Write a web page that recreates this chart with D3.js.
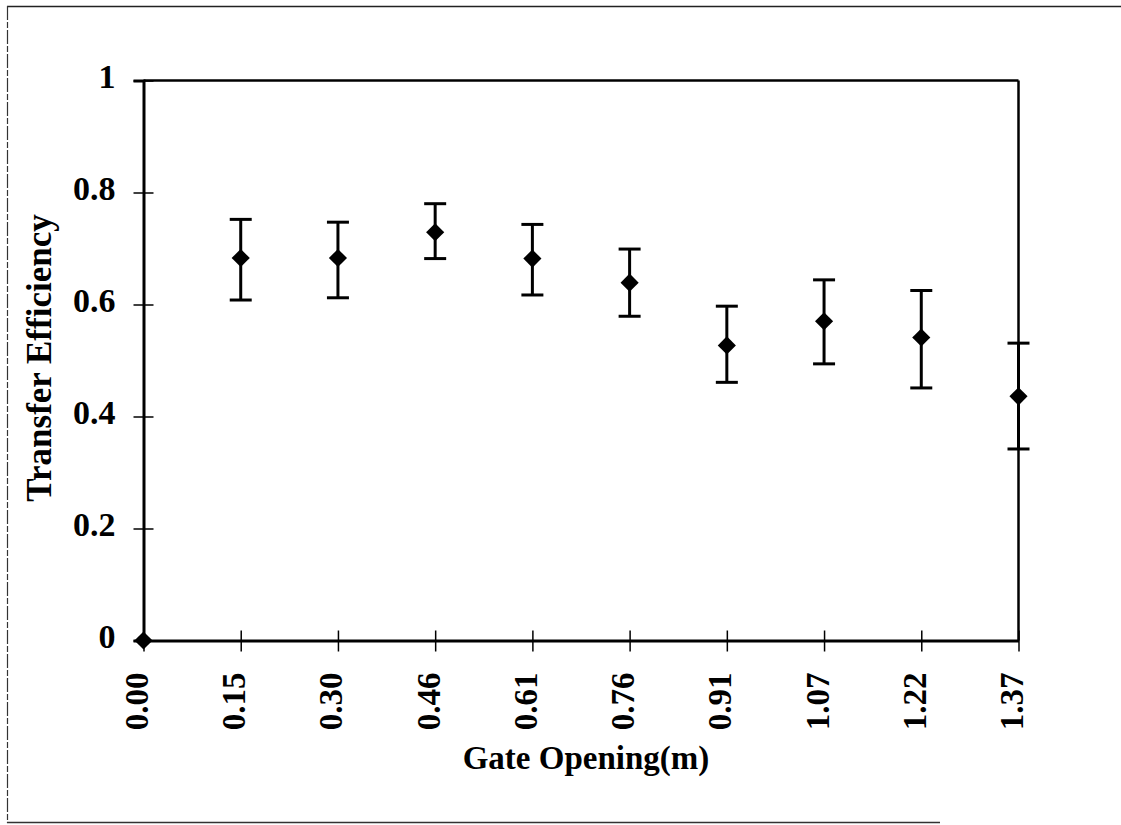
<!DOCTYPE html>
<html>
<head>
<meta charset="utf-8">
<script src="https://cdn.jsdelivr.net/npm/d3@7"></script>
<style>
  html, body { margin: 0; padding: 0; background: #fff; }
  svg { display: block; }
  text { font-family: "Liberation Serif", "Times New Roman", serif; font-weight: bold; fill: #000; }
</style>
</head>
<body>
<svg id="chart" width="1121" height="825"></svg>
<script>
// ---- data ----
const categories = ["0.00", "0.15", "0.30", "0.46", "0.61", "0.76", "0.91", "1.07", "1.22", "1.37"];
const efficiency = [0, 0.683, 0.683, 0.729, 0.682, 0.639, 0.527, 0.570, 0.541, 0.436];
const upperErr   = [null, 0.752, 0.747, 0.780, 0.743, 0.699, 0.597, 0.644, 0.625, 0.531];
const lowerErr   = [null, 0.608, 0.612, 0.682, 0.617, 0.579, 0.461, 0.494, 0.451, 0.342];
const yTicks = [0, 0.2, 0.4, 0.6, 0.8, 1];
const yTickLabels = ["0", "0.2", "0.4", "0.6", "0.8", "1"];
const xTitle = "Gate Opening(m)";
const yTitle = "Transfer Efficiency";

// ---- layout ----
const svg = d3.select("#chart");
const plot = { left: 143.5, right: 1018.5, top: 80.5, bottom: 640.5 };

const x = d3.scalePoint().domain(categories).range([plot.left, plot.right]).padding(0);
const y = d3.scaleLinear().domain([0, 1]).range([plot.bottom, plot.top]);

// outer frame (page border)
svg.append("line").attr("x1", 7).attr("x2", 1121).attr("y1", 6.5).attr("y2", 6.5)
  .attr("stroke", "#222").attr("stroke-width", 1.5);
svg.append("line").attr("x1", 7.5).attr("x2", 7.5).attr("y1", 6).attr("y2", 823)
  .attr("stroke", "#333").attr("stroke-width", 1.2).attr("stroke-dasharray", "14 2 6 2");
svg.append("line").attr("x1", 7).attr("x2", 940).attr("y1", 822.5).attr("y2", 822.5)
  .attr("stroke", "#333").attr("stroke-width", 1.5);

// plot box (top & right)
svg.append("line").attr("x1", plot.left).attr("x2", plot.right).attr("y1", plot.top).attr("y2", plot.top)
  .attr("stroke", "#000").attr("stroke-width", 2.5);
svg.append("line").attr("x1", plot.right).attr("x2", plot.right).attr("y1", plot.top).attr("y2", plot.bottom)
  .attr("stroke", "#000").attr("stroke-width", 2.5);

// y axis
const yAxis = d3.axisLeft(y).tickValues(yTicks).tickFormat((d, i) => yTickLabels[i]).tickSize(10).tickPadding(20);
const gy = svg.append("g").attr("transform", `translate(${plot.left},0)`).call(yAxis);
gy.select(".domain").attr("stroke", "#000").attr("stroke-width", 3);
gy.selectAll(".tick line").attr("x1", -10).attr("x2", 10).attr("stroke", "#000").attr("stroke-width", 1.5);
gy.selectAll(".tick text").attr("font-size", 34).attr("dy", "0.2em")
  .style("font-family", '"Liberation Serif", "Times New Roman", serif').style("font-weight", "bold")
  .attr("x", -28);

// x axis
const xAxis = d3.axisBottom(x).tickSize(10).tickSizeOuter(0);
const gx = svg.append("g").attr("transform", `translate(0,${plot.bottom})`).call(xAxis);
gx.select(".domain").attr("stroke", "#000").attr("stroke-width", 3);
gx.selectAll(".tick line").attr("y1", -10).attr("y2", 11).attr("stroke", "#000").attr("stroke-width", 1.5);
gx.selectAll(".tick text")
  .attr("font-size", 33)
  .style("font-family", '"Liberation Serif", "Times New Roman", serif').style("font-weight", "bold")
  .attr("text-anchor", "end")
  .attr("transform", "translate(4,32) rotate(-90)")
  .attr("x", 0).attr("y", 0).attr("dy", 0);

// axis titles
svg.append("text").attr("x", 586).attr("y", 769).attr("text-anchor", "middle")
  .attr("font-size", 33).text(xTitle);
svg.append("text").attr("transform", `translate(51,358) rotate(-90)`).attr("text-anchor", "middle")
  .attr("font-size", 35).text(yTitle);

// error bars
const data = categories.map((c, i) => ({ c, v: efficiency[i], hi: upperErr[i], lo: lowerErr[i] }));
const eb = svg.append("g");
const withErr = data.filter(d => d.hi !== null);
eb.selectAll(".stem").data(withErr).join("line")
  .attr("x1", d => x(d.c)).attr("x2", d => x(d.c))
  .attr("y1", d => y(d.lo)).attr("y2", d => y(d.hi))
  .attr("stroke", "#000").attr("stroke-width", 3);
eb.selectAll(".capHi").data(withErr).join("line")
  .attr("x1", d => x(d.c) - 11).attr("x2", d => x(d.c) + 11)
  .attr("y1", d => y(d.hi)).attr("y2", d => y(d.hi))
  .attr("stroke", "#000").attr("stroke-width", 3);
eb.selectAll(".capLo").data(withErr).join("line")
  .attr("x1", d => x(d.c) - 11).attr("x2", d => x(d.c) + 11)
  .attr("y1", d => y(d.lo)).attr("y2", d => y(d.lo))
  .attr("stroke", "#000").attr("stroke-width", 3);

// diamonds
const diamond = d3.symbol().type(d3.symbolDiamond2).size(210);
svg.append("g").selectAll("path").data(data).join("path")
  .attr("d", diamond)
  .attr("transform", d => `translate(${x(d.c)},${y(d.v)})`)
  .attr("fill", "#000");
</script>
</body>
</html>
